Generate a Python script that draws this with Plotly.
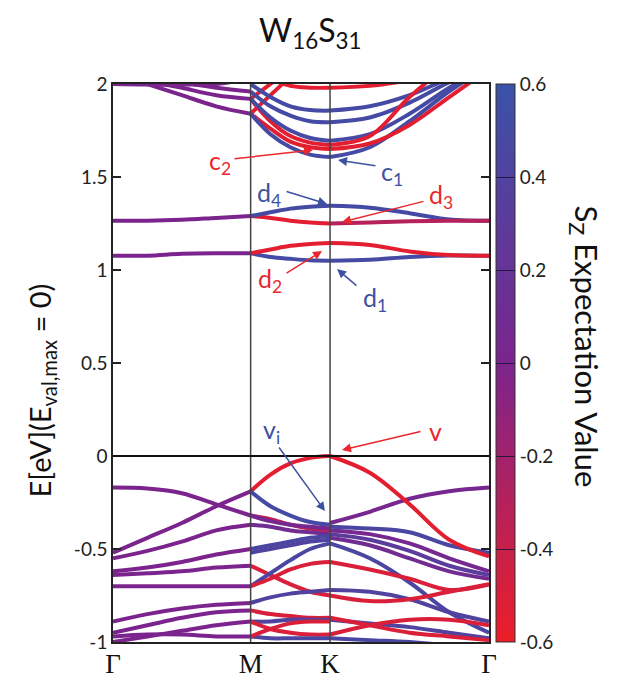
import plotly.graph_objects as go
from plotly.colors import sample_colorscale

# ---------------- data ----------------
K_LABELS = ["Γ", "M", "K", "Γ"]
K_NODES = [0.0, 1.0, 1.577, 2.732]
K_GM = [0.0, 0.25, 0.5, 0.75, 1.0]
K_MK = [1.0, 1.144, 1.289, 1.433, 1.577]
K_KG = [1.577, 1.866, 2.155, 2.443, 2.732]

E_TICKS = [-1, -0.5, 0, 0.5, 1, 1.5, 2]
E_TICKTEXT = ["-1", "-0.5", "0", "0.5", "1", "1.5", "2"]
SZ_TICKS = [-0.6, -0.4, -0.2, 0, 0.2, 0.4, 0.6]
SZ_TICKTEXT = ["-0.6", "-0.4", "-0.2", "0", "0.2", "0.4", "0.6"]

# Γ -> M segment: band energies (eV) and Sz expectation value
GM_E = [
    [-0.17, -0.175, -0.20, -0.26, -0.32],
    [-0.52, -0.44, -0.36, -0.27, -0.19],
    [-0.55, -0.51, -0.46, -0.40, -0.37],
    [-0.62, -0.60, -0.57, -0.53, -0.50],
    [-0.64, -0.63, -0.62, -0.60, -0.59],
    [-0.70, -0.70, -0.70, -0.70, -0.70],
    [-0.89, -0.85, -0.82, -0.80, -0.79],
    [-0.95, -0.91, -0.87, -0.84, -0.83],
    [-1.00, -0.97, -0.94, -0.91, -0.89],
    [-0.97, -0.96, -0.96, -0.97, -0.97],
    [1.077, 1.077, 1.087, 1.09, 1.09],
    [1.265, 1.265, 1.27, 1.28, 1.29],
    [2.06, 2.00, 1.94, 1.88, 1.84],
    [2.10, 2.02, 1.98, 1.94, 1.92],
    [2.15, 2.06, 2.01, 1.98, 1.96],
    [2.00, 1.997, 1.997, 2.0, 2.03],
]
GM_SZ = [0.0] * 16

# M -> K segment
MK_E = [
    [-0.19, -0.10, -0.04, -0.01, 0.0],
    [-0.19, -0.27, -0.32, -0.355, -0.37],
    [-0.32, -0.34, -0.37, -0.39, -0.40],
    [-0.32, -0.35, -0.37, -0.38, -0.39],
    [-0.37, -0.38, -0.40, -0.41, -0.42],
    [-0.50, -0.48, -0.46, -0.44, -0.43],
    [-0.52, -0.50, -0.48, -0.46, -0.45],
    [-0.59, -0.64, -0.69, -0.73, -0.75],
    [-0.70, -0.63, -0.56, -0.50, -0.47],
    [-0.70, -0.66, -0.61, -0.58, -0.57],
    [-0.79, -0.76, -0.74, -0.73, -0.72],
    [-0.83, -0.85, -0.86, -0.87, -0.87],
    [-0.89, -0.89, -0.88, -0.88, -0.88],
    [-0.89, -0.93, -0.95, -0.96, -0.96],
    [-0.97, -0.98, -0.98, -0.98, -0.98],
    [-0.97, -0.93, -0.90, -0.89, -0.89],
    [1.09, 1.07, 1.06, 1.052, 1.05],
    [1.09, 1.11, 1.13, 1.14, 1.145],
    [1.29, 1.28, 1.265, 1.255, 1.25],
    [1.29, 1.31, 1.33, 1.34, 1.345],
    [1.84, 1.76, 1.69, 1.66, 1.65],
    [1.92, 1.80, 1.72, 1.685, 1.672],
    [1.84, 1.94, 2.04, 2.14, 2.2],
    [1.92, 2.0, 2.08, 2.15, 2.2],
    [2.10, 2.03, 1.99, 1.98, 1.98],
    [1.84, 1.73, 1.66, 1.62, 1.607],
    [1.92, 1.82, 1.75, 1.71, 1.695],
    [1.96, 1.88, 1.83, 1.80, 1.795],
    [2.0, 1.93, 1.88, 1.86, 1.857],
]
MK_SZ = [-0.55, 0.5, -0.35, 0.05, 0.1, 0.45, 0.4, -0.5, 0.45, -0.5, 0.4, -0.5,
         0.4, -0.5, 0.45, -0.5, 0.5, -0.55, -0.55, 0.5, -0.55, -0.55, -0.55,
         -0.55, -0.55, 0.5, 0.5, 0.5, 0.5]

# K -> Γ segment
KG_E = [
    [-0.36, -0.30, -0.23, -0.19, -0.17],
    [-0.40, -0.42, -0.47, -0.55, -0.62],
    [-0.44, -0.48, -0.55, -0.62, -0.66],
    [-0.38, -0.39, -0.41, -0.48, -0.52],
    [-0.42, -0.45, -0.51, -0.59, -0.64],
    [-0.47, -0.55, -0.68, -0.84, -0.95],
    [-0.72, -0.73, -0.77, -0.84, -0.89],
    [-0.88, -0.90, -0.92, -0.95, -0.98],
    [-0.98, -0.99, -1.0, -1.02, -1.05],
    [0.0, -0.09, -0.26, -0.45, -0.54],
    [-0.57, -0.61, -0.66, -0.72, -0.69],
    [-0.75, -0.78, -0.77, -0.73, -0.69],
    [-0.87, -0.91, -0.95, -0.97, -0.99],
    [-0.96, -0.91, -0.88, -0.88, -0.91],
    [1.05, 1.055, 1.07, 1.078, 1.077],
    [1.145, 1.135, 1.10, 1.08, 1.077],
    [1.345, 1.335, 1.305, 1.272, 1.265],
    [1.25, 1.255, 1.262, 1.265, 1.265],
    [1.607, 1.66, 1.80, 1.96, 2.1],
    [1.695, 1.73, 1.84, 1.98, 2.1],
    [1.795, 1.82, 1.90, 2.01, 2.1],
    [1.857, 1.88, 1.94, 2.03, 2.1],
    [1.65, 1.68, 1.78, 1.93, 2.08],
    [1.672, 1.72, 1.93, 2.1, 2.2],
    [1.98, 1.99, 2.02, 2.06, 2.1],
]
KG_SZ = [0.05, 0.05, 0.1, 0.45, 0.3, 0.45, 0.4, 0.4, 0.45, -0.55, -0.5, -0.5,
         -0.5, -0.5, 0.5, -0.55, 0.5, -0.3, 0.5, 0.5, 0.5, 0.5, -0.55, -0.55,
         -0.55]

# band annotations: label, colour, text position, arrow tail, arrow head (k, E)
LABELS = [
    ("c<sub>2</sub>", "red", (0.777, 1.581), (0.872, 1.597), (1.453, 1.645)),
    ("c<sub>1</sub>", "blue", (2.027, 1.522), (1.918, 1.559), (1.635, 1.591)),
    ("d<sub>4</sub>", "blue", (1.133, 1.409), (1.250, 1.425), (1.555, 1.355)),
    ("d<sub>3</sub>", "red", (2.383, 1.398), (2.267, 1.371), (1.664, 1.258)),
    ("d<sub>2</sub>", "red", (1.141, 0.946), (1.250, 0.978), (1.519, 1.102)),
    ("d<sub>1</sub>", "blue", (1.904, 0.844), (1.780, 0.909), (1.628, 1.005)),
    ("v<sub>i</sub>", "blue", (1.155, 0.134), (1.199, 0.054), (1.540, -0.296)),
    ("v", "red", (2.340, 0.134), (2.245, 0.134), (1.664, 0.032)),
]

# ---------------- styling ----------------
CSCALE = [[0.0, "rgb(236,30,40)"], [0.5, "rgb(124,36,142)"], [1.0, "rgb(58,82,168)"]]
SMIN, SMAX = -0.6, 0.6
LABEL_COLORS = {"red": "rgb(232,40,45)", "blue": "rgb(60,82,160)"}
SANS = "Lato"


def sz_color(sz):
    t = (sz - SMIN) / (SMAX - SMIN)
    return sample_colorscale(CSCALE, [min(max(t, 0), 1)])[0]


fig = go.Figure()

segments = [(K_GM, GM_E, GM_SZ), (K_MK, MK_E, MK_SZ), (K_KG, KG_E, KG_SZ)]
for ks, bands, szs in segments:
    for e, sz in zip(bands, szs):
        fig.add_trace(go.Scatter(
            x=ks, y=e, mode="lines",
            line=dict(color=sz_color(sz), width=4, shape="spline", smoothing=1.0),
            showlegend=False, hoverinfo="skip"))

# colour bar holder
fig.add_trace(go.Scatter(
    x=[None], y=[None], mode="markers",
    marker=dict(color=[0], colorscale=CSCALE, cmin=SMIN, cmax=SMAX, showscale=True,
                colorbar=dict(
                    thickness=19, len=1, lenmode="fraction", y=0.5, yanchor="middle",
                    x=1.0186, xanchor="left", xpad=0, ypad=0,
                    outlinewidth=1, outlinecolor="#333",
                    tickvals=SZ_TICKS, ticktext=SZ_TICKTEXT,
                    ticks="inside", ticklen=19, tickwidth=1, tickcolor="rgba(20,20,50,0.85)",
                    tickfont=dict(family=SANS, size=19, color="#222"))),
    showlegend=False, hoverinfo="skip"))

fig.update_xaxes(range=[K_NODES[0], K_NODES[-1]], tickvals=K_NODES, ticktext=K_LABELS,
                 ticks="", showgrid=False, zeroline=False, showline=True, mirror=True,
                 linecolor="#222", linewidth=1.5, automargin=False, ticklabelstandoff=-3,
                 tickfont=dict(family="Liberation Serif", size=27, color="#111"))
fig.update_yaxes(range=[E_TICKS[0], E_TICKS[-1]], tickvals=E_TICKS, ticktext=E_TICKTEXT,
                 ticks="inside", ticklen=8, tickwidth=1.5, tickcolor="#222",
                 showgrid=False, zeroline=False, showline=True, mirror="ticks",
                 linecolor="#222", linewidth=1.5, automargin=False,
                 tickfont=dict(family=SANS, size=19, color="#222"))

shapes = []
for kv in K_NODES[1:3]:
    shapes.append(dict(type="line", xref="x", yref="paper", x0=kv, x1=kv, y0=0, y1=1,
                       line=dict(color="#444", width=1.5), layer="above"))
shapes.append(dict(type="line", xref="paper", yref="y", x0=0, x1=1, y0=0, y1=0,
                   line=dict(color="#111", width=2), layer="above"))

annotations = [
    dict(text="W<sub>16</sub>S<sub>31</sub>", xref="paper", yref="paper", x=0.524, y=1.093,
         xanchor="center", yanchor="middle", showarrow=False,
         font=dict(family=SANS, size=32, color="#111")),
    dict(text="E[eV](E<sub>val,max</sub> = 0)", xref="paper", yref="paper", x=-0.19, y=0.45,
         xanchor="center", yanchor="middle", showarrow=False, textangle=-90,
         font=dict(family=SANS, size=29, color="#111")),
    dict(text="S<sub>Z</sub> Expectation Value", xref="paper", yref="paper", x=1.255, y=0.53,
         xanchor="center", yanchor="middle", showarrow=False, textangle=90,
         font=dict(family=SANS, size=31, color="#111")),
]
for txt, col, tpos, tail, head in LABELS:
    c = LABEL_COLORS[col]
    annotations.append(dict(text="", x=head[0], y=head[1], ax=tail[0], ay=tail[1],
                            xref="x", yref="y", axref="x", ayref="y", showarrow=True,
                            arrowhead=2, arrowsize=1.2, arrowwidth=1.5, arrowcolor=c))
    annotations.append(dict(text=txt, x=tpos[0], y=tpos[1], xref="x", yref="y",
                            showarrow=False, xanchor="center", yanchor="middle",
                            font=dict(family=SANS, size=25, color=c)))

fig.update_layout(width=622, height=681, margin=dict(l=113, r=133, t=84, b=39),
                  paper_bgcolor="white", plot_bgcolor="white",
                  shapes=shapes, annotations=annotations)

fig.write_html("out.html")
